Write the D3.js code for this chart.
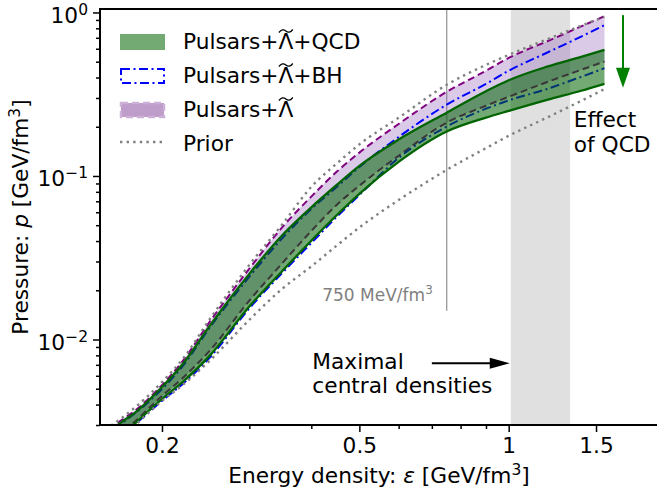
<!DOCTYPE html>
<html>
<head>
<meta charset="utf-8">
<script src="https://cdn.jsdelivr.net/npm/d3@7"></script>
<style>
body { margin: 0; background: #fff; }
svg text { font-family: "DejaVu Sans", sans-serif; }
</style>
</head>
<body>
<div id="plot"></div>
<script>
const eps = [0.15, 0.165, 0.177, 0.2, 0.22, 0.25, 0.3, 0.35, 0.4, 0.45, 0.5, 0.6, 0.75, 0.9, 1.0, 1.2, 1.4, 1.56];

// Pulsars + Lambda + QCD (green band)
const qcdLow  = [0.00189, 0.0025, 0.00309, 0.00432, 0.00549, 0.0080, 0.0159, 0.0263, 0.0402, 0.0575, 0.0778, 0.122, 0.187, 0.2275, 0.25, 0.293, 0.332, 0.366];
const qcdHigh = [0.00245, 0.00309, 0.0036, 0.00512, 0.00706, 0.0122, 0.0252, 0.0436, 0.0643, 0.0881, 0.1152, 0.167, 0.244, 0.33, 0.385, 0.468, 0.535, 0.590];

// Pulsars + Lambda + BH (blue dash-dot)
const bhLow  = [0.00184, 0.00245, 0.00304, 0.00421, 0.00533, 0.00778, 0.0155, 0.0256, 0.0389, 0.0562, 0.0765, 0.129, 0.2006, 0.258, 0.29, 0.342, 0.404, 0.456];
const bhHigh = [0.0024, 0.00304, 0.00356, 0.00498, 0.00686, 0.0119, 0.0242, 0.0418, 0.0629, 0.0857, 0.1135, 0.173, 0.273, 0.366, 0.440, 0.571, 0.712, 0.837];

// Pulsars + Lambda (purple band)
const tidLow  = [0.00203, 0.00261, 0.00318, 0.00451, 0.0058, 0.00859, 0.0173, 0.0294, 0.0461, 0.0665, 0.0872, 0.133, 0.212, 0.269, 0.305, 0.377, 0.446, 0.501];
const tidHigh = [0.00258, 0.00318, 0.0037, 0.00526, 0.00736, 0.0129, 0.0271, 0.0488, 0.0748, 0.106, 0.139, 0.208, 0.327, 0.440, 0.527, 0.669, 0.822, 0.949];

// Prior (gray dotted)
const priorLow  = [0.00184, 0.00245, 0.00301, 0.00421, 0.00526, 0.00746, 0.0132, 0.0205, 0.028, 0.0375, 0.0484, 0.0713, 0.109, 0.148, 0.176, 0.229, 0.288, 0.340];
const priorHigh = [0.00269, 0.00327, 0.00387, 0.00549, 0.00757, 0.0134, 0.0286, 0.0508, 0.0858, 0.119, 0.156, 0.227, 0.361, 0.478, 0.550, 0.688, 0.829, 0.940];

// ticks
const xTicks = [0.2, 0.5, 1, 1.5],
    xTickLabels = ["0.2", "0.5", "1", "1.5"],
    xMinor = [0.3, 0.4, 0.6, 0.7, 0.8, 0.9];
const yTicks = [0.01, 0.1, 1],
    yTickExp = ["\u22122", "\u22121", "0"];

// annotations
const densityBand = [1.01, 1.33];   // maximal central densities
const refLine = 0.75, refLineBottom = 0.015;

const width = 657, height = 494, fs = 21.7;
const plotL = 100, plotR = 658, plotT = 9, plotB = 425;

const x = d3.scaleLog().domain([0.15, 2.0]).range([plotL, plotR]);
const y = d3.scaleLog().domain([0.003, 1.05]).range([plotB, plotT]);

const svg = d3.select("#plot").append("svg")
    .attr("width", width)
    .attr("height", height);

svg.append("clipPath").attr("id", "clip")
  .append("rect")
    .attr("x", plotL).attr("y", plotT)
    .attr("width", plotR - plotL).attr("height", plotB - plotT);

const plot = svg.append("g").attr("clip-path", "url(#clip)");

// gray band of maximal central densities
plot.append("rect")
    .attr("x", x(densityBand[0]))
    .attr("width", x(densityBand[1]) - x(densityBand[0]))
    .attr("y", plotT)
    .attr("height", plotB - plotT)
    .attr("fill", "#e0e0e0");

// 750 MeV/fm^3 line
plot.append("line")
    .attr("x1", x(refLine)).attr("x2", x(refLine))
    .attr("y1", y(refLineBottom)).attr("y2", plotT)
    .attr("stroke", "#999").attr("stroke-width", 1.3);

const area = (lo, hi) => d3.area()
    .x((d, i) => x(eps[i]))
    .y0((d, i) => y(lo[i]))
    .y1((d, i) => y(hi[i]))
    .curve(d3.curveMonotoneX)(eps);
const line = arr => d3.line()
    .x((d, i) => x(eps[i]))
    .y((d, i) => y(arr[i]))
    .curve(d3.curveMonotoneX)(eps);

// purple band
plot.append("path").attr("d", area(tidLow, tidHigh))
    .attr("fill", "#9467bd").attr("fill-opacity", 0.35);
[tidLow, tidHigh].forEach(arr => {
    plot.append("path").attr("d", line(arr))
        .attr("fill", "none").attr("stroke", "#800080")
        .attr("stroke-width", 2).attr("stroke-dasharray", "7,4");
});

// blue BH lines
[bhLow, bhHigh].forEach(arr => {
    plot.append("path").attr("d", line(arr))
        .attr("fill", "none").attr("stroke", "#0000ff")
        .attr("stroke-width", 2).attr("stroke-dasharray", "9,3.5,2,3.5");
});

// green band
plot.append("path").attr("d", area(qcdLow, qcdHigh))
    .attr("fill", "#006400").attr("fill-opacity", 0.55);
[qcdLow, qcdHigh].forEach(arr => {
    plot.append("path").attr("d", line(arr))
        .attr("fill", "none").attr("stroke", "#006400")
        .attr("stroke-width", 2.3);
});

// prior
[priorLow, priorHigh].forEach(arr => {
    plot.append("path").attr("d", line(arr))
        .attr("fill", "none").attr("stroke", "#808080")
        .attr("stroke-width", 2.4).attr("stroke-dasharray", "2.4,4.2");
});

// axes
const styleAxis = g => {
    g.select(".domain").remove();
    g.selectAll(".tick line").attr("stroke", "#000").attr("stroke-width", 1.5);
    g.selectAll(".tick text").attr("fill", "#000").attr("font-size", fs)
        .attr("font-family", "DejaVu Sans");
};

svg.append("g")
    .attr("transform", `translate(0,${plotB})`)
    .call(d3.axisBottom(x).tickValues(xTicks)
        .tickFormat(d => xTickLabels[xTicks.indexOf(d)])
        .tickSize(7).tickPadding(6))
    .call(styleAxis);

svg.append("g")
    .attr("transform", `translate(0,${plotB})`)
    .call(d3.axisBottom(x).tickValues(xMinor).tickFormat("").tickSize(4))
    .call(styleAxis);

const yMinor = [];
[0.001, 0.01, 0.1].forEach(dec => d3.range(2, 10).forEach(m => {
    if (m * dec >= 0.003) yMinor.push(m * dec);
}));

const yAx = svg.append("g")
    .attr("transform", `translate(${plotL},0)`)
    .call(d3.axisLeft(y).tickValues(yTicks).tickFormat("").tickSize(7))
    .call(styleAxis);
yAx.selectAll(".tick text").remove();
yAx.selectAll(".tick").each(function (d) {
    const t = d3.select(this).append("text")
        .attr("x", -12).attr("dy", "0.45em")
        .attr("text-anchor", "end").attr("fill", "#000")
        .attr("font-size", fs);
    t.append("tspan").text("10");
    t.append("tspan").attr("dy", -8).attr("font-size", 15.5)
        .text(yTickExp[yTicks.indexOf(d)]);
});

svg.append("g")
    .attr("transform", `translate(${plotL},0)`)
    .call(d3.axisLeft(y).tickValues(yMinor).tickFormat("").tickSize(4))
    .call(styleAxis);

// frame
svg.append("rect")
    .attr("x", plotL).attr("y", plotT)
    .attr("width", plotR - plotL).attr("height", plotB - plotT)
    .attr("fill", "none").attr("stroke", "#000").attr("stroke-width", 2);

// axis labels
const xl = svg.append("text")
    .attr("x", (plotL + plotR) / 2).attr("y", 483)
    .attr("text-anchor", "middle").attr("font-size", fs);
xl.append("tspan").text("Energy density: ");
xl.append("tspan").attr("font-style", "italic").text("\u03b5");
xl.append("tspan").text(" [GeV/fm");
xl.append("tspan").attr("dy", -8).attr("font-size", 15.5).text("3");
xl.append("tspan").attr("dy", 8).text("]");

const yl = svg.append("text")
    .attr("transform", `translate(28,${(plotT + plotB) / 2}) rotate(-90)`)
    .attr("text-anchor", "middle").attr("font-size", fs);
yl.append("tspan").text("Pressure: ");
yl.append("tspan").attr("font-style", "italic").text("p");
yl.append("tspan").text(" [GeV/fm");
yl.append("tspan").attr("dy", -8).attr("font-size", 15.5).text("3");
yl.append("tspan").attr("dy", 8).text("]");

// annotations
const ref = svg.append("text")
    .attr("x", x(0.703)).attr("y", y(0.0173))
    .attr("text-anchor", "end").attr("font-size", 17).attr("fill", "#808080");
ref.append("tspan").text("750 MeV/fm");
ref.append("tspan").attr("dy", -7).attr("font-size", 12).text("3");

svg.append("text").attr("x", x(0.402)).attr("y", y(0.00657))
    .attr("font-size", fs).text("Maximal");
svg.append("text").attr("x", x(0.402)).attr("y", y(0.0047))
    .attr("font-size", fs).text("central densities");

const arrowY = y(0.00716);
svg.append("line")
    .attr("x1", x(0.70)).attr("x2", x(0.97))
    .attr("y1", arrowY).attr("y2", arrowY)
    .attr("stroke", "#000").attr("stroke-width", 2);
svg.append("path")
    .attr("d", `M${x(1.005)},${arrowY} L${x(1.005) - 20},${arrowY - 5.5} L${x(1.005) - 20},${arrowY + 5.5} Z`)
    .attr("fill", "#000");

svg.append("text").attr("x", x(1.353)).attr("y", y(0.2))
    .attr("font-size", fs).text("Effect");
svg.append("text").attr("x", x(1.353)).attr("y", y(0.141))
    .attr("font-size", fs).text("of QCD");

const qx = x(1.70), qTop = y(0.963), qTip = y(0.346);
svg.append("line")
    .attr("x1", qx).attr("x2", qx)
    .attr("y1", qTop).attr("y2", qTip - 18)
    .attr("stroke", "#008000").attr("stroke-width", 2);
svg.append("path")
    .attr("d", `M${qx},${qTip} L${qx - 7},${qTip - 20} L${qx + 7},${qTip - 20} Z`)
    .attr("fill", "#008000");

// legend
const legend = svg.append("g");
const sx = 120, sw = 45, tx = 183;
legend.append("rect").attr("x", sx).attr("y", 34).attr("width", sw).attr("height", 16)
    .attr("fill", "#006400").attr("fill-opacity", 0.55);
legend.append("rect").attr("x", sx + 1).attr("y", 69).attr("width", sw - 2).attr("height", 14)
    .attr("fill", "none").attr("stroke", "#0000ff").attr("stroke-width", 2)
    .attr("stroke-dasharray", "9,3.5,2,3.5");
legend.append("rect").attr("x", sx + 1).attr("y", 103).attr("width", sw - 2).attr("height", 14)
    .attr("fill", "#bf9dcb").attr("stroke", "#cdb0d8").attr("stroke-width", 2.5)
    .attr("stroke-dasharray", "7,4");
legend.append("line").attr("x1", sx).attr("x2", sx + sw).attr("y1", 142).attr("y2", 142)
    .attr("stroke", "#808080").attr("stroke-width", 2.4).attr("stroke-dasharray", "2.4,4.2");

const labels = ["Pulsars+\u039b+QCD", "Pulsars+\u039b+BH", "Pulsars+\u039b", "Prior"];
const baselines = [49, 83, 117, 151];
labels.forEach((lab, i) => {
    const t = legend.append("text").attr("x", tx).attr("y", baselines[i])
        .attr("font-size", fs).text(lab);
    const k = lab.indexOf("\u039b");
    if (k >= 0) {
        const n = t.node();
        const x0 = n.getStartPositionOfChar(k).x + 0.5,
            x1 = n.getEndPositionOfChar(k).x - 0.5,
            w = x1 - x0, ym = baselines[i] - 18;
        legend.append("path")
            .attr("d", `M${x0},${ym + 1.5} Q${x0 + w / 4},${ym - 3} ${x0 + w / 2},${ym} T${x1},${ym - 1.5}`)
            .attr("fill", "none").attr("stroke", "#000").attr("stroke-width", 1.3);
    }
});
</script>
</body>
</html>
